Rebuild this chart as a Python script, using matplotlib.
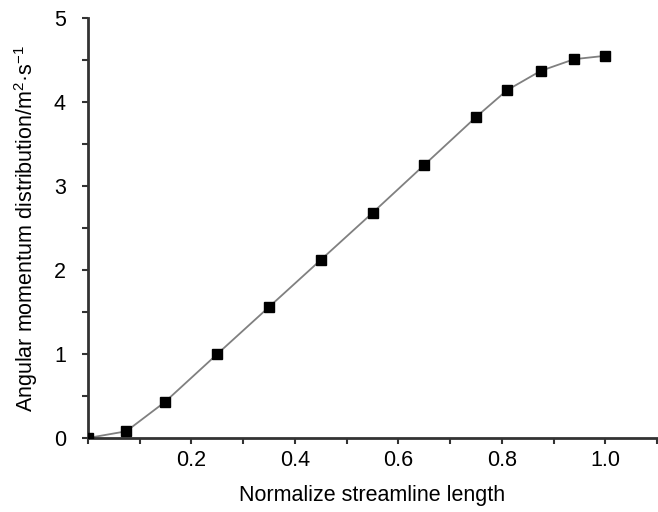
import matplotlib
matplotlib.use("Agg")
import matplotlib.pyplot as plt
from matplotlib.ticker import MultipleLocator, FixedFormatter, FixedLocator

plt.rcParams['font.family'] = ['Liberation Sans', 'DejaVu Sans']
plt.rcParams['mathtext.fontset'] = 'custom'
plt.rcParams['mathtext.rm'] = 'Liberation Sans'
plt.rcParams['mathtext.it'] = 'Liberation Sans'

# data
stream_len = [0.0, 0.074, 0.149, 0.25, 0.35, 0.45, 0.55, 0.65, 0.75, 0.81, 0.875, 0.94, 1.0]
ang_mom = [0.0, 0.08, 0.43, 1.0, 1.56, 2.12, 2.68, 3.25, 3.82, 4.14, 4.37, 4.51, 4.55]
x_ticks = [0.2, 0.4, 0.6, 0.8, 1.0]
x_ticklabels = ['0.2', '0.4', '0.6', '0.8', '1.0']

fig = plt.figure(figsize=(6.58, 5.12), dpi=100)
ax = fig.add_axes([88/658, 1 - 438/512, (657 - 88)/658, (438 - 18)/512])

ax.plot(stream_len, ang_mom, color='#808080', lw=1.3, zorder=2)
ax.plot(stream_len, ang_mom, ls='none', marker='s', ms=7, color='black', zorder=3)

ax.set_xlim(0, 1.1)
ax.set_ylim(0, 5)
ax.xaxis.set_major_locator(FixedLocator(x_ticks))
ax.xaxis.set_major_formatter(FixedFormatter(x_ticklabels))
ax.xaxis.set_minor_locator(MultipleLocator(0.1))
ax.yaxis.set_major_locator(MultipleLocator(1))
ax.yaxis.set_minor_locator(MultipleLocator(0.5))

for s in ['top', 'right']:
    ax.spines[s].set_visible(False)
for s in ['left', 'bottom']:
    ax.spines[s].set_linewidth(2)
    ax.spines[s].set_color('#333333')
ax.tick_params(which='both', direction='out', length=4, width=1.5, color='#333333',
               labelsize=15.5)
ax.tick_params(axis='y', pad=12)
ax.tick_params(axis='x', pad=5)

ax.set_xlabel('Normalize streamline length', fontsize=15.5, labelpad=10)
ax.set_ylabel('Angular momentum distribution/m$^{2}$·s$^{\\mathrm{-1}}$', fontsize=15.5, labelpad=10)

fig.savefig('out.png', dpi=100)
